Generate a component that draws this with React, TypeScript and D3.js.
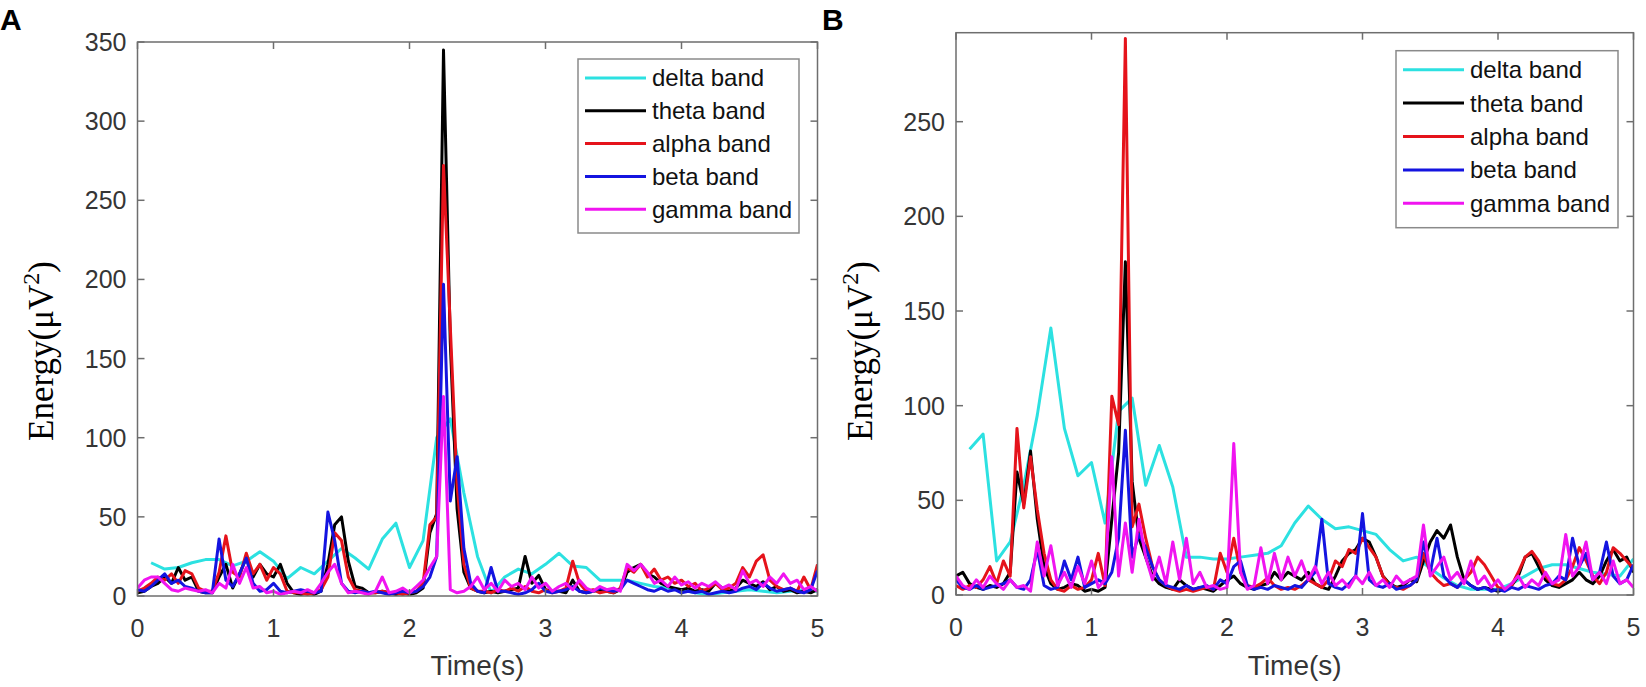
import React from 'react';
import * as d3 from 'd3';

// sampling grids (seconds)
const timeGrid = d3.range(101).map((i) => +(i * 0.05).toFixed(2));
const deltaTime = d3.range(1, 51).map((i) => +(i * 0.1).toFixed(1));

const bandNames = ['delta band', 'theta band', 'alpha band', 'beta band', 'gamma band'];
const bandColors = ['#2ce1e1', '#000000', '#e5131b', '#1414e0', '#f014f0'];

const xTicks = [0, 1, 2, 3, 4, 5];
const yTicksA = [0, 50, 100, 150, 200, 250, 300, 350];
const yTicksB = [0, 50, 100, 150, 200, 250];

// ---- panel A values (µV²) ----
const deltaA = [
  21, 17, 18, 21, 23, 23, 19, 22, 28, 22,
  11, 18, 14, 22, 30, 24, 17, 36, 46, 18,
  35, 100, 112, 65, 25, 2, 12, 17, 14, 20,
  27, 19, 18, 10, 10, 10, 8, 6, 5, 4,
  2, 1, 2, 3, 4, 3, 2, 3, 4, 3,
];
const thetaA = [
  2, 3, 6, 8, 12, 8, 18, 10, 12, 3,
  2, 2, 12, 20, 5, 14, 24, 12, 20, 14,
  12, 20, 8, 2, 1, 2, 1, 3, 20, 45,
  50, 22, 6, 5, 2, 2, 3, 2, 1, 2,
  1, 2, 5, 40, 52, 345, 160, 55, 15, 5,
  3, 2, 3, 2, 3, 4, 5, 25, 8, 13,
  4, 3, 3, 2, 10, 3, 2, 3, 4, 3,
  2, 4, 15, 18, 20, 14, 12, 8, 6, 5,
  4, 5, 3, 4, 3, 8, 5, 3, 5, 10,
  8, 6, 9, 4, 6, 3, 4, 2, 3, 2,
  4,
];
const alphaA = [
  3, 5, 8, 12, 10, 14, 8, 16, 14, 5,
  3, 3, 15, 38, 15, 12, 27, 14, 20, 10,
  18, 14, 3, 2, 2, 1, 2, 4, 12, 40,
  35, 12, 4, 3, 2, 2, 3, 2, 2, 1,
  2, 3, 8, 45, 50, 272, 170, 70, 20, 5,
  3, 3, 2, 4, 3, 5, 3, 6, 3, 2,
  4, 2, 3, 5, 22, 8, 3, 4, 2, 3,
  2, 5, 18, 15, 20, 12, 17, 10, 12, 8,
  10, 6, 8, 3, 5, 8, 4, 5, 8, 18,
  12, 22, 26, 10, 6, 4, 5, 3, 12, 4,
  20,
];
const betaA = [
  4, 3, 6, 10, 14, 8, 10, 6, 5, 3,
  2, 2, 36, 10, 6, 14, 24, 8, 3, 4,
  8, 3, 2, 3, 4, 3, 2, 3, 53, 35,
  8, 3, 2, 3, 2, 3, 2, 1, 2, 3,
  2, 3, 6, 12, 25, 197, 60, 88, 30, 8,
  3, 2, 18, 3, 3, 2, 1, 2, 4, 8,
  3, 2, 3, 4, 6, 3, 2, 3, 5, 4,
  3, 4, 10, 8, 6, 4, 3, 5, 3, 4,
  2, 3, 2, 3, 1, 2, 3, 2, 3, 5,
  6, 4, 8, 5, 3, 4, 5, 3, 2, 4,
  16,
];
const gammaA = [
  5, 10, 12, 12, 8, 4, 3, 5, 4, 3,
  4, 2, 8, 5, 20, 8, 18, 5, 6, 2,
  3, 1, 2, 3, 2, 4, 2, 8, 15, 20,
  8, 2, 3, 2, 1, 3, 12, 2, 3, 5,
  2, 6, 10, 18, 25, 126, 4, 2, 3, 6,
  12, 4, 8, 3, 10, 6, 8, 4, 12, 5,
  8, 3, 6, 8, 4, 10, 5, 3, 6, 4,
  5, 3, 20, 16, 20, 15, 8, 10, 6, 12,
  7, 9, 5, 8, 6, 9, 5, 7, 4, 16,
  8, 10, 6, 12, 8, 14, 8, 10, 4, 6,
  3,
];

// ---- panel B values (µV²) ----
const deltaB = [
  77, 85, 18, 28, 58, 95, 141, 88, 63, 70,
  38, 97, 104, 58, 79, 57, 20, 20, 19, 19,
  20, 21, 22, 26, 38, 47, 40, 35, 36, 34,
  32, 24, 18, 20, 14, 9, 5, 3, 3, 3,
  6, 10, 14, 16, 16, 14, 12, 11, 10, 19,
];
const thetaB = [
  10, 12, 6, 4, 3, 5, 4, 6, 12, 65,
  48, 76, 40, 15, 6, 3, 4, 6, 5, 2,
  3, 2, 4, 40, 75, 176, 60, 30, 20, 10,
  6, 4, 3, 8, 5, 3, 4, 3, 2, 5,
  8, 10, 6, 4, 3, 5, 6, 12, 8, 12,
  10, 8, 12, 6, 4, 3, 10, 18, 22, 24,
  30, 28, 20, 10, 6, 4, 5, 8, 7, 18,
  28, 34, 30, 37, 20, 8, 5, 3, 4, 3,
  2, 3, 5, 10, 20, 22, 15, 8, 5, 4,
  6, 8, 12, 8, 6, 10, 18, 24, 18, 20,
  12,
];
const alphaB = [
  5, 3, 5, 4, 8, 15, 6, 18, 10, 88,
  46, 73, 45, 22, 8, 3, 2, 5, 3, 4,
  8, 22, 5, 105, 90, 294, 36, 48, 30, 15,
  8, 5, 3, 2, 3, 2, 3, 4, 3, 22,
  12, 30, 12, 5, 4, 6, 9, 5, 3, 4,
  3, 5, 8, 6, 4, 8, 18, 15, 24, 22,
  30, 25, 20, 10, 5, 4, 3, 5, 8, 22,
  12, 8, 5, 6, 4, 8, 12, 20, 16, 10,
  4, 3, 5, 12, 20, 23, 18, 10, 6, 5,
  8, 15, 25, 18, 10, 6, 12, 25, 22, 18,
  14,
];
const betaB = [
  8, 4, 3, 5, 3, 4, 5, 6, 8, 4,
  3, 8, 24, 5, 3, 4, 18, 8, 20, 4,
  6, 8, 6, 12, 30, 87, 20, 32, 25, 15,
  8, 5, 4, 3, 5, 3, 4, 5, 3, 8,
  6, 15, 18, 5, 3, 4, 3, 5, 4, 3,
  5, 4, 8, 12, 40, 6, 4, 3, 6, 10,
  43, 8, 5, 4, 6, 3, 4, 5, 8, 28,
  12, 30, 10, 6, 4, 8, 5, 3, 4, 2,
  3, 2, 4, 3, 5, 4, 3, 5, 6, 10,
  8, 30, 15, 22, 8, 12, 28, 10, 6, 8,
  16,
];
const gammaB = [
  10, 5, 3, 8, 4, 10, 6, 3, 8, 4,
  5, 2, 28, 10, 26, 5, 12, 4, 15, 6,
  18, 4, 8, 73, 10, 38, 12, 40, 20, 8,
  20, 6, 28, 8, 30, 6, 12, 4, 5, 3,
  4, 80, 12, 3, 5, 25, 6, 22, 8, 20,
  10, 18, 8, 15, 6, 12, 5, 8, 4, 10,
  6, 12, 5, 8, 4, 10, 6, 8, 10, 37,
  10, 15, 20, 8, 12, 6, 18, 6, 10, 4,
  8, 3, 6, 10, 4, 8, 5, 12, 6, 8,
  32, 10, 15, 28, 8, 12, 6, 18, 6, 8,
  4,
];

const SANS = '"Liberation Sans", Arial, Helvetica, sans-serif';
const SERIF = '"Liberation Serif", "Times New Roman", serif';
const AXIS_COLOR = '#6e6e6e';
const TEXT_COLOR = '#353535';

interface PanelProps {
  id: string;
  letter: string;
  letterX: number;
  left: number;
  right: number;
  top: number;
  bottom: number;
  yMax: number;
  yTicks: number[];
  ylabelX: number;
  legendX: number;
  legendY: number;
  legendW: number;
  legendH: number;
  series: number[][];
}

function Panel(p: PanelProps) {
  const x = d3.scaleLinear().domain([0, 5]).range([p.left, p.right]);
  const y = d3.scaleLinear().domain([0, p.yMax]).range([p.bottom, p.top]);
  const line = d3
    .line<[number, number]>()
    .x((d) => x(d[0]))
    .y((d) => y(d[1]));

  const tickLen = 7;
  const rowStep = (p.legendH - 10) / bandNames.length;

  return (
    <g>
      <defs>
        <clipPath id={`clip-${p.id}`}>
          <rect x={p.left} y={p.top} width={p.right - p.left} height={p.bottom - p.top} />
        </clipPath>
      </defs>

      {/* data lines */}
      <g clipPath={`url(#clip-${p.id})`}>
        {p.series.map((values, i) => {
          const times = i === 0 ? deltaTime : timeGrid;
          const pts = values.map((v, j) => [times[j], v] as [number, number]);
          return (
            <path
              key={i}
              d={line(pts) || ''}
              fill="none"
              stroke={bandColors[i]}
              strokeWidth={3}
              strokeLinejoin="round"
            />
          );
        })}
      </g>

      {/* axes box and inward ticks */}
      <rect
        x={p.left}
        y={p.top}
        width={p.right - p.left}
        height={p.bottom - p.top}
        fill="none"
        stroke={AXIS_COLOR}
        strokeWidth={1.5}
      />
      {xTicks.map((t) => (
        <g key={`xt${t}`} stroke={AXIS_COLOR} strokeWidth={1.5}>
          <line x1={x(t)} x2={x(t)} y1={p.bottom} y2={p.bottom - tickLen} />
          <line x1={x(t)} x2={x(t)} y1={p.top} y2={p.top + tickLen} />
        </g>
      ))}
      {p.yTicks.map((t) => (
        <g key={`yt${t}`} stroke={AXIS_COLOR} strokeWidth={1.5}>
          <line x1={p.left} x2={p.left + tickLen} y1={y(t)} y2={y(t)} />
          <line x1={p.right} x2={p.right - tickLen} y1={y(t)} y2={y(t)} />
        </g>
      ))}

      {/* tick labels */}
      {xTicks.map((t) => (
        <text
          key={`xl${t}`}
          x={x(t)}
          y={p.bottom + 41}
          textAnchor="middle"
          fontFamily={SANS}
          fontSize={25}
          fill={TEXT_COLOR}
        >
          {t}
        </text>
      ))}
      {p.yTicks.map((t) => (
        <text
          key={`yl${t}`}
          x={p.left - 11}
          y={y(t)}
          dy="0.36em"
          textAnchor="end"
          fontFamily={SANS}
          fontSize={25}
          fill={TEXT_COLOR}
        >
          {t}
        </text>
      ))}

      {/* axis labels */}
      <text
        x={(p.left + p.right) / 2}
        y={675}
        textAnchor="middle"
        fontFamily={SANS}
        fontSize={28}
        fill={TEXT_COLOR}
      >
        Time(s)
      </text>
      <text
        transform={`translate(${p.ylabelX},351) rotate(-90)`}
        textAnchor="middle"
        fontFamily={SERIF}
        fontSize={35}
        fill="#000"
      >
        Energy(μV
        <tspan fontSize={24} dy={-14}>
          2
        </tspan>
        <tspan dy={14}>)</tspan>
      </text>

      {/* panel letter */}
      <text x={p.letterX} y={30} fontFamily={SANS} fontWeight="bold" fontSize={30} fill="#000">
        {p.letter}
      </text>

      {/* legend */}
      <rect
        x={p.legendX}
        y={p.legendY}
        width={p.legendW}
        height={p.legendH}
        fill="#fff"
        stroke="#8a8a8a"
        strokeWidth={1.5}
      />
      {bandNames.map((name, i) => {
        const cy = p.legendY + 19 + i * rowStep;
        return (
          <g key={name}>
            <line
              x1={p.legendX + 7}
              x2={p.legendX + 68}
              y1={cy}
              y2={cy}
              stroke={bandColors[i]}
              strokeWidth={3}
            />
            <text
              x={p.legendX + 74}
              y={cy}
              dy="0.35em"
              fontFamily={SANS}
              fontSize={24}
              fill="#111"
            >
              {name}
            </text>
          </g>
        );
      })}
    </g>
  );
}

export default function App() {
  return (
    <svg
      width={1646}
      height={687}
      style={{ position: 'absolute', left: 0, top: 0, background: '#fff' }}
    >
      <rect width={1646} height={687} fill="#fff" />
      <Panel
        id="a"
        letter="A"
        letterX={0}
        left={137.5}
        right={817.5}
        top={42}
        bottom={596}
        yMax={350}
        yTicks={yTicksA}
        ylabelX={53}
        legendX={578}
        legendY={59}
        legendW={221}
        legendH={174}
        series={[deltaA, thetaA, alphaA, betaA, gammaA]}
      />
      <Panel
        id="b"
        letter="B"
        letterX={822}
        left={956}
        right={1633.5}
        top={32.7}
        bottom={595}
        yMax={297}
        yTicks={yTicksB}
        ylabelX={872}
        legendX={1396}
        legendY={50.7}
        legendW={222}
        legendH={177}
        series={[deltaB, thetaB, alphaB, betaB, gammaB]}
      />
    </svg>
  );
}
